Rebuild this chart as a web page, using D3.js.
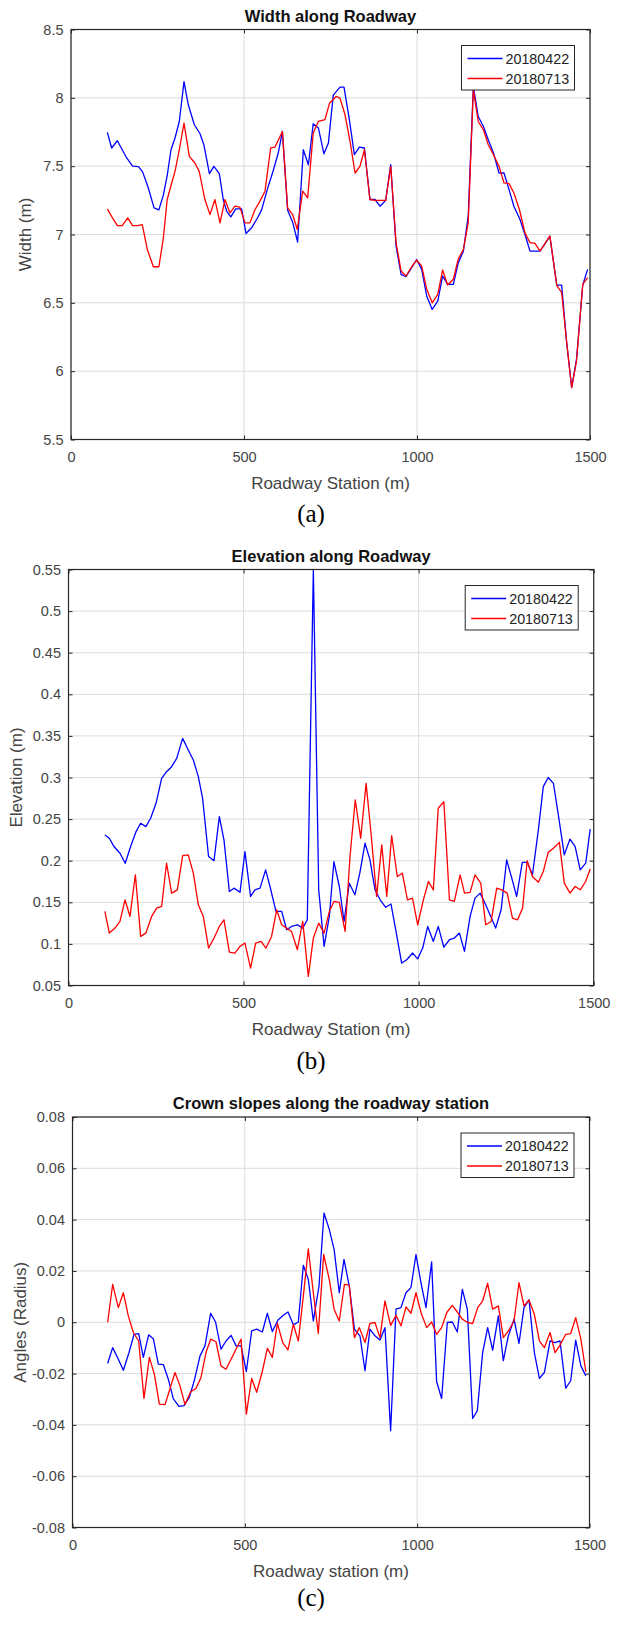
<!DOCTYPE html>
<html>
<head>
<meta charset="utf-8">
<script src="https://cdn.jsdelivr.net/npm/d3@7"></script>
<style>
  html, body { margin: 0; padding: 0; background: #fff; }
  svg { display: block; }
  .tick text { font-family: "Liberation Sans", Arial, Helvetica, sans-serif; }
</style>
</head>
<body>
<svg id="fig" width="621" height="1627"></svg>
<script>
// ---- data: station (m) and measured value per survey ----
const seriesNames = ["20180422", "20180713"];
const seriesColors = ["#0000ff", "#ff0000"];

const stationTicks = [0, 500, 1000, 1500];
const widthTicks = [5.5, 6, 6.5, 7, 7.5, 8, 8.5];
const elevationTicks = [0.05, 0.1, 0.15, 0.2, 0.25, 0.3, 0.35, 0.4, 0.45, 0.5, 0.55];
const slopeTicks = [-0.08, -0.06, -0.04, -0.02, 0, 0.02, 0.04, 0.06, 0.08];

const width20180422 = [[105,7.747],[117.5,7.633],[134,7.686],[161,7.56],[178,7.50],[195,7.497],[207,7.458],[223.5,7.34],[240,7.195],[254,7.18],[267,7.29],[278,7.43],[289,7.62],[300.6,7.706],[313,7.827],[326.6,8.119],[339,7.949],[356.5,7.803],[373,7.737],[384,7.657],[400,7.445],[413,7.499],[428.7,7.445],[440,7.256],[450,7.17],[462,7.129],[476,7.187],[493,7.187],[506,7.007],[522,7.049],[536.6,7.11],[551,7.18],[567.4,7.33],[584.8,7.47],[599,7.596],[611,7.754],[626,7.18],[640.6,7.09],[655,6.945],[671.5,7.62],[686,7.51],[700,7.81],[715,7.78],[731,7.59],[744,7.67],[758,8.02],[777.5,8.078],[789,8.078],[804.5,7.84],[819,7.584],[833.5,7.64],[848,7.633],[864,7.256],[878.5,7.256],[893,7.207],[909.5,7.25],[924,7.511],[939.5,6.915],[954,6.708],[968,6.691],[984.6,6.757],[999,6.817],[1013.5,6.745],[1028,6.55],[1044,6.452],[1060,6.513],[1074,6.696],[1088.6,6.635],[1105,6.635],[1119,6.79],[1134,6.878],[1148,7.134],[1162.8,8.083],[1177,7.863],[1192,7.79],[1206,7.693],[1221,7.596],[1237,7.45],[1251.4,7.45],[1266,7.328],[1280,7.207],[1297.7,7.109],[1312,7.0],[1326.6,6.878],[1355.5,6.878],[1384,6.987],[1404,6.63],[1418,6.63],[1432.6,6.21],[1447,5.88],[1461,6.087],[1479,6.63],[1493,6.745]];
const width20180713 = [[105,7.187],[120,7.121],[134,7.065],[148,7.065],[164,7.121],[178,7.065],[192,7.065],[206,7.073],[220.6,6.89],[238,6.764],[254,6.764],[267,6.976],[278,7.256],[291,7.377],[300.6,7.462],[313,7.62],[326.6,7.815],[342,7.572],[358,7.523],[370.6,7.462],[387,7.256],[401.7,7.146],[416,7.256],[430.6,7.085],[445,7.256],[459.5,7.158],[474,7.207],[488,7.2],[503,7.085],[517,7.085],[532,7.183],[546,7.244],[560.7,7.317],[577,7.633],[589.6,7.64],[611,7.754],[626,7.195],[640.6,7.146],[654,7.037],[669.6,7.317],[684,7.268],[700,7.742],[715,7.827],[734,7.84],[747,7.96],[766,8.01],[777.5,7.998],[792,7.876],[806.5,7.681],[821,7.45],[835,7.499],[848,7.62],[864,7.256],[878.5,7.25],[893,7.25],[909.5,7.25],[924,7.499],[939.5,6.94],[954,6.733],[968,6.696],[984.6,6.764],[999,6.812],[1013.5,6.77],[1028,6.6],[1044,6.5],[1060,6.562],[1074,6.74],[1088.6,6.63],[1105,6.672],[1119,6.82],[1134,6.89],[1148,7.085],[1162.8,8.058],[1177,7.827],[1192,7.766],[1206,7.657],[1221,7.584],[1237,7.5],[1251.4,7.377],[1266,7.372],[1280,7.304],[1296,7.183],[1312,7.012],[1326.6,6.94],[1341,6.935],[1355.5,6.878],[1384,6.99],[1404,6.626],[1418,6.577],[1432.6,6.21],[1447,5.88],[1461,6.075],[1479,6.635],[1493,6.684]];

const elevation20180422 = [[104,0.231],[116.6,0.227],[130,0.217],[147,0.209],[162,0.197],[177.5,0.217],[193,0.235],[206,0.245],[221,0.241],[234.6,0.251],[250,0.269],[266,0.299],[280,0.307],[294.6,0.313],[309,0.323],[326,0.347],[342,0.333],[356.5,0.321],[370.8,0.301],[383,0.275],[400,0.205],[415.6,0.2],[430.8,0.253],[444,0.225],[459.4,0.163],[472.6,0.167],[489.8,0.162],[504,0.211],[520,0.157],[532.6,0.165],[547,0.167],[563,0.189],[575.5,0.169],[592.6,0.139],[608.8,0.139],[623,0.117],[637,0.121],[653.6,0.123],[669,0.119],[682,0.129],[699.3,0.55],[714.6,0.165],[730,0.097],[745,0.133],[758,0.199],[773.5,0.169],[787,0.127],[802,0.173],[818,0.159],[832,0.185],[847,0.221],[861,0.201],[875.4,0.165],[890,0.153],[906,0.144],[921,0.148],[935.4,0.115],[951.5,0.077],[966,0.081],[983,0.089],[997.3,0.082],[1011.6,0.095],[1026,0.121],[1042,0.103],[1056,0.121],[1072,0.096],[1088,0.105],[1102,0.107],[1116.6,0.113],[1131,0.091],[1147,0.133],[1161,0.155],[1175.6,0.161],[1191.5,0.147],[1206,0.133],[1220,0.119],[1235.6,0.141],[1251.4,0.201],[1266,0.179],[1280,0.157],[1296,0.198],[1310,0.198],[1325,0.183],[1342,0.237],[1356,0.289],[1370,0.3],[1385,0.293],[1399,0.255],[1416,0.207],[1432.3,0.226],[1447,0.217],[1461.5,0.189],[1477.2,0.197],[1490,0.238]];
const elevation20180713 = [[104,0.139],[116.6,0.113],[132.8,0.119],[147,0.127],[161.4,0.153],[175.6,0.133],[191,0.183],[206,0.109],[221,0.113],[237.5,0.133],[251.8,0.143],[266,0.145],[280,0.197],[294.6,0.161],[310.8,0.165],[326,0.206],[342,0.207],[356.5,0.185],[370.8,0.147],[385,0.133],[400,0.095],[415.6,0.107],[430.8,0.121],[444,0.129],[459.4,0.09],[475.5,0.089],[489.8,0.097],[504,0.101],[520,0.071],[534.6,0.101],[550,0.103],[564,0.095],[580,0.109],[594.5,0.141],[608.8,0.123],[623,0.119],[637,0.115],[653.6,0.093],[669,0.127],[685,0.061],[699.3,0.107],[714.6,0.125],[730,0.113],[745,0.139],[758,0.151],[773.5,0.150],[790,0.115],[804,0.205],[819,0.273],[834.5,0.227],[850,0.293],[864,0.233],[880,0.157],[894.6,0.219],[909,0.157],[923,0.230],[939,0.181],[953.5,0.185],[968,0.153],[982.5,0.155],[997.3,0.123],[1013.5,0.153],[1028,0.175],[1042,0.165],[1056,0.263],[1072,0.271],[1088,0.153],[1102,0.151],[1118.5,0.183],[1131,0.161],[1147,0.162],[1161,0.183],[1177.5,0.173],[1191.5,0.123],[1207,0.127],[1223,0.167],[1237,0.165],[1253,0.161],[1268,0.131],[1282.6,0.129],[1297,0.143],[1310,0.2],[1325,0.181],[1342,0.174],[1356,0.187],[1370,0.210],[1385,0.215],[1402,0.222],[1416,0.173],[1432.3,0.161],[1447,0.169],[1461.5,0.165],[1477,0.175],[1490,0.190]];

const slope20180422 = [[102,-0.0161],[116.5,-0.0099],[133,-0.0144],[147.5,-0.0187],[164,-0.0118],[178.4,-0.0047],[192,-0.0044],[205.5,-0.0137],[221,-0.0049],[234.5,-0.0064],[249,-0.0163],[263.5,-0.0165],[278,-0.0222],[292.6,-0.0299],[309,-0.0328],[323.5,-0.0325],[338.9,-0.0293],[354.4,-0.0222],[370,-0.0131],[384.4,-0.0092],[400.8,0.0035],[415,0.0001],[430.8,-0.0105],[445.4,-0.0073],[460,-0.0051],[474.5,-0.0092],[489,-0.0092],[504.4,-0.0192],[519.8,-0.0034],[534.4,-0.0027],[550.8,-0.0038],[565.3,0.0035],[579.8,-0.0036],[596.2,0.0009],[611.7,0.0027],[625.2,0.004],[640.7,-0.001],[655.2,0.0001],[669.7,0.0222],[684.2,0.0167],[698.7,0.0005],[715.2,0.0141],[729.7,0.0426],[745,0.0362],[759,0.0284],[774,0.0115],[787.7,0.0245],[803,0.0141],[818,-0.0027],[834,-0.0053],[848.6,-0.0189],[863,-0.0027],[877.6,-0.0053],[892,-0.0069],[906.6,-0.0021],[923,-0.0423],[938.6,0.0051],[953,0.0057],[967.6,0.0115],[982,0.0135],[996.6,0.0264],[1011,0.0154],[1025.6,0.0057],[1042,0.0235],[1056.5,-0.0232],[1071,-0.0297],[1087.5,-0.0001],[1102,0.0001],[1116.5,-0.0038],[1131,0.0128],[1145.5,0.0051],[1161,-0.0375],[1174.5,-0.0345],[1190,-0.0118],[1204.5,-0.0021],[1219,-0.0109],[1235.5,0.0025],[1250,-0.015],[1264.5,-0.0053],[1281,0.0012],[1295.4,-0.0082],[1310,0.0057],[1324.5,0.0087],[1340,-0.0118],[1354.6,-0.0219],[1369,-0.0196],[1385.5,-0.0073],[1400,-0.0079],[1414.5,-0.0073],[1431,-0.0257],[1445.5,-0.0228],[1460,-0.007],[1475,-0.017],[1489.4,-0.0209]];
const slope20180713 = [[102,0],[116.5,0.0148],[133,0.0057],[147.5,0.0115],[162,0.0025],[176.5,-0.004],[192,-0.0073],[207.4,-0.0297],[223,-0.0137],[237.5,-0.0202],[252,-0.0319],[268.4,-0.0321],[283,-0.0258],[297.4,-0.0196],[311.9,-0.0248],[326.4,-0.0321],[342.8,-0.0271],[358.3,-0.0258],[372.8,-0.0215],[387.3,-0.0118],[400.8,-0.0066],[416.3,-0.0076],[430.8,-0.017],[445.4,-0.0183],[460,-0.0144],[474.5,-0.0105],[489,-0.0066],[504.4,-0.0358],[519.8,-0.0219],[534.4,-0.0273],[550,-0.0196],[565.3,-0.0102],[579.8,-0.0137],[594.3,-0.0004],[609.8,-0.0079],[625.2,-0.0108],[640.7,-0.0008],[655.2,-0.0073],[669.7,0.0102],[684.2,0.0286],[698.7,0.0115],[713.2,-0.0044],[728.7,0.0264],[745,0.0167],[759,0.0051],[774,0.0005],[789,0.0148],[803,0.0145],[818,-0.006],[832.4,-0.0021],[848.6,-0.0079],[863,-0.0004],[877.6,-0.0001],[892,-0.006],[906.6,0.0083],[923,-0.0012],[938.6,0.0027],[953,-0.0014],[967.6,0.006],[982,0.0035],[996.6,0.0115],[1011,0.0038],[1027.5,-0.0021],[1042,0.0001],[1056.5,-0.0047],[1071,-0.0021],[1086,0.0038],[1102,0.0066],[1116.5,0.004],[1131,0.0012],[1146.5,-0.0001],[1161,-0.0005],[1175.6,0.0057],[1190,0.0083],[1204.5,0.0152],[1219,0.0051],[1235.5,0.0064],[1250,-0.006],[1264.5,-0.0034],[1281,0.0005],[1295.4,0.0154],[1310,0.0064],[1324.5,0.0087],[1340,0.0031],[1354.6,-0.0073],[1369,-0.0099],[1385.5,-0.004],[1400,-0.0118],[1414.5,-0.0089],[1431,-0.0047],[1445.5,-0.0044],[1460,0.0018],[1475,-0.0066],[1489.4,-0.0193]];

// ---- panel layout ----
const panels = [
  { title: "Width along Roadway", ylabel: "Width (m)", xlabel: "Roadway Station (m)", caption: "(a)",
    box: { l: 71, r: 590, t: 29.5, b: 439.5 }, yDomain: [5.5, 8.5], yTicks: widthTicks,
    series: [width20180422, width20180713], ylabelX: 25, captionY: 514 },
  { title: "Elevation along Roadway", ylabel: "Elevation (m)", xlabel: "Roadway Station (m)", caption: "(b)",
    box: { l: 68.5, r: 593.7, t: 569.5, b: 985.5 }, yDomain: [0.05, 0.55], yTicks: elevationTicks,
    series: [elevation20180422, elevation20180713], ylabelX: 16, captionY: 1061 },
  { title: "Crown slopes along the roadway station", ylabel: "Angles (Radius)", xlabel: "Roadway station (m)", caption: "(c)",
    box: { l: 72.5, r: 589.5, t: 1117, b: 1527.5 }, yDomain: [-0.08, 0.08], yTicks: slopeTicks,
    series: [slope20180422, slope20180713], ylabelX: 20, captionY: 1598 }
];

const svg = d3.select("#fig");
svg.append("rect").attr("width", 621).attr("height", 1627).attr("fill", "#fff");

const sans = "'Liberation Sans', Arial, Helvetica, sans-serif";
const axisColor = "#262626";
const textColor = "#444";
const fmt = v => String(+v.toFixed(4));

panels.forEach(p => {
  const { l, r, t, b } = p.box;
  const x = d3.scaleLinear().domain([0, 1500]).range([l, r]);
  const y = d3.scaleLinear().domain(p.yDomain).range([b, t]);
  const g = svg.append("g");

  // grid
  g.append("g").selectAll("line").data(stationTicks).join("line")
    .attr("x1", d => x(d)).attr("x2", d => x(d)).attr("y1", t).attr("y2", b)
    .attr("stroke", "#dcdcdc").attr("stroke-width", 1);
  g.append("g").selectAll("line").data(p.yTicks).join("line")
    .attr("x1", l).attr("x2", r).attr("y1", d => y(d)).attr("y2", d => y(d))
    .attr("stroke", "#dcdcdc").attr("stroke-width", 1);

  // data lines
  const line = d3.line().x(d => x(d[0])).y(d => y(d[1]));
  const clipId = "clip" + p.caption.replace(/\W/g, "");
  svg.append("clipPath").attr("id", clipId).append("rect")
    .attr("x", l).attr("y", t - 1).attr("width", r - l).attr("height", b - t + 2);
  p.series.forEach((s, i) => {
    g.append("path").datum(s).attr("d", line)
      .attr("fill", "none").attr("stroke", seriesColors[i])
      .attr("stroke-width", 1.3).attr("stroke-linejoin", "round")
      .attr("clip-path", `url(#${clipId})`);
  });

  // axes with inward ticks on all four sides
  const style = sel => {
    sel.select(".domain").remove();
    sel.selectAll(".tick line").attr("stroke", axisColor);
    sel.selectAll(".tick text").attr("fill", textColor).attr("font-size", 14.5);
  };
  g.append("g").attr("transform", `translate(0,${b})`)
    .call(d3.axisBottom(x).tickValues(stationTicks).tickSize(-4).tickPadding(12.5).tickFormat(fmt))
    .call(style);
  g.append("g").attr("transform", `translate(0,${t})`)
    .call(d3.axisTop(x).tickValues(stationTicks).tickSize(-4).tickFormat(""))
    .call(style);
  g.append("g").attr("transform", `translate(${l},0)`)
    .call(d3.axisLeft(y).tickValues(p.yTicks).tickSize(-4).tickPadding(7.5).tickFormat(fmt))
    .call(style);
  g.append("g").attr("transform", `translate(${r},0)`)
    .call(d3.axisRight(y).tickValues(p.yTicks).tickSize(-4).tickFormat(""))
    .call(style);

  // box
  g.append("rect").attr("x", l).attr("y", t).attr("width", r - l).attr("height", b - t)
    .attr("fill", "none").attr("stroke", axisColor).attr("stroke-width", 1.2);

  // title and labels
  const cx = (l + r) / 2;
  g.append("text").attr("x", cx).attr("y", t - 13.5).attr("dy", "0.35em")
    .attr("text-anchor", "middle").attr("font-family", sans).attr("font-weight", "bold")
    .attr("font-size", 16.5).attr("fill", "#111").text(p.title);
  g.append("text").attr("x", cx).attr("y", b + 43.5).attr("dy", "0.35em")
    .attr("text-anchor", "middle").attr("font-family", sans)
    .attr("font-size", 17).attr("fill", textColor).text(p.xlabel);
  g.append("text").attr("transform", `translate(${p.ylabelX},${(t + b) / 2}) rotate(-90)`)
    .attr("dy", "0.35em").attr("text-anchor", "middle").attr("font-family", sans)
    .attr("font-size", 17).attr("fill", textColor).text(p.ylabel);
  svg.append("text").attr("x", 311).attr("y", p.captionY).attr("dy", "0.33em")
    .attr("text-anchor", "middle").attr("font-family", "'Liberation Serif', 'Times New Roman', serif")
    .attr("font-size", 25).attr("fill", "#000").text(p.caption);

  // legend
  const lw = 113, lh = 44.5;
  const lx = r - 15.5 - lw, ly = t + 16;
  const lg = g.append("g").attr("transform", `translate(${lx},${ly})`);
  lg.append("rect").attr("width", lw).attr("height", lh)
    .attr("fill", "#fff").attr("stroke", axisColor).attr("stroke-width", 1);
  seriesNames.forEach((name, i) => {
    const yy = 13 + i * 20;
    lg.append("line").attr("x1", 6).attr("x2", 41).attr("y1", yy).attr("y2", yy)
      .attr("stroke", seriesColors[i]).attr("stroke-width", 1.3);
    lg.append("text").attr("x", 44).attr("y", yy).attr("dy", "0.35em")
      .attr("font-family", sans).attr("font-size", 14.3).attr("fill", "#222").text(name);
  });
});
</script>
</body>
</html>
